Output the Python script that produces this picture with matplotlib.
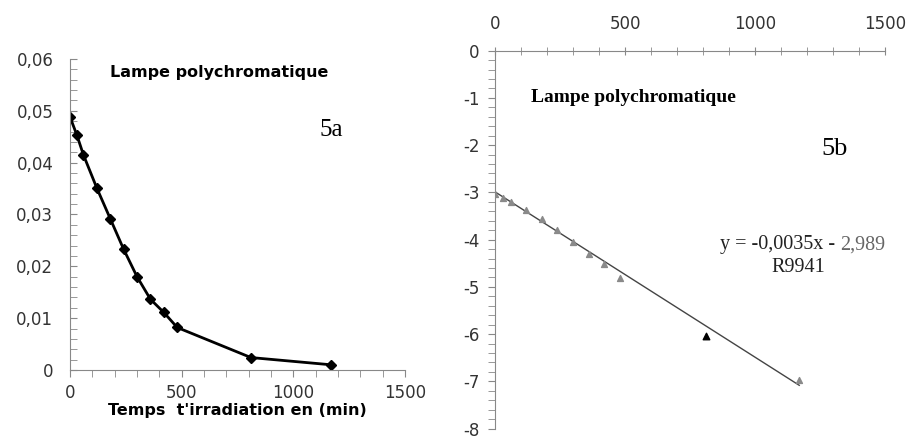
import matplotlib.pyplot as plt
from matplotlib.ticker import MultipleLocator, FuncFormatter
import numpy as np

plt.rcParams['axes.unicode_minus'] = False

# 5a : concentration vs time
temps_a = [0, 30, 60, 120, 180, 240, 300, 360, 420, 480, 810, 1170]
conc_a = [0.0488, 0.0454, 0.0415, 0.0351, 0.0292, 0.0233, 0.0180, 0.01365, 0.0111, 0.0082, 0.0024, 0.0010]

# 5b : ln(C) vs time
temps_b = [0, 30, 60, 120, 180, 240, 300, 360, 420, 480, 810, 1170]
lnc_b = [-3.03, -3.12, -3.21, -3.38, -3.57, -3.79, -4.05, -4.31, -4.52, -4.82, -6.04, -6.97]
pente = -0.0035
ordonnee = -2.989

fig = plt.figure(figsize=(9.08, 4.4), dpi=100)
comma = FuncFormatter(lambda v, p: ('%g' % round(v, 4)).replace('.', ','))

# ---- left plot
ax1 = fig.add_axes([0.0771, 0.1591, 0.369, 0.707])
ax1.plot(temps_a, conc_a, color='black', lw=2, marker='D', markersize=5)
ax1.set_xlim(0, 1500)
ax1.set_ylim(0, 0.06)
ax1.xaxis.set_major_locator(MultipleLocator(500))
ax1.xaxis.set_minor_locator(MultipleLocator(100))
ax1.yaxis.set_major_locator(MultipleLocator(0.01))
ax1.yaxis.set_minor_locator(MultipleLocator(0.002))
ax1.yaxis.set_major_formatter(comma)
for s in ['top', 'right']:
    ax1.spines[s].set_visible(False)
for s in ['left', 'bottom']:
    ax1.spines[s].set_color('#888888')
ax1.tick_params(which='both', color='#888888', labelsize=12, labelcolor='#333333')
ax1.tick_params(axis='y', which='both', direction='in', length=5)
ax1.tick_params(axis='y', which='major', pad=12)
ax1.tick_params(axis='x', which='both', direction='out', length=5, pad=5)
ax1.set_xlabel("Temps  t'irradiation en (min)", fontsize=11.5, fontweight='bold', labelpad=1)
ax1.text(0.445, 0.955, 'Lampe polychromatique', transform=ax1.transAxes, ha='center',
         va='center', fontsize=11.5, fontweight='bold')
ax1.text(0.78, 0.77, '5a', transform=ax1.transAxes, ha='center', va='center',
         fontsize=18, family='Liberation Serif')

# ---- right plot
ax2 = fig.add_axes([0.5452, 0.026, 0.4295, 0.8588])
xs = np.array([0, temps_b[-1]])
ax2.plot(xs, pente * xs + ordonnee, color='#444444', lw=1)
ax2.scatter(temps_b[:10], lnc_b[:10], marker='^', s=18, color='#8a8a8a', zorder=3)
ax2.scatter(temps_b[10:11], lnc_b[10:11], marker='^', s=22, color='black', zorder=3)
ax2.scatter(temps_b[11:], lnc_b[11:], marker='^', s=18, color='#8a8a8a', zorder=3)
ax2.set_xlim(0, 1500)
ax2.set_ylim(-8, 0)
ax2.xaxis.set_major_locator(MultipleLocator(500))
ax2.xaxis.set_minor_locator(MultipleLocator(100))
ax2.yaxis.set_major_locator(MultipleLocator(1))
ax2.yaxis.set_minor_locator(MultipleLocator(0.2))
ax2.xaxis.tick_top()
for s in ['bottom', 'right']:
    ax2.spines[s].set_visible(False)
for s in ['left', 'top']:
    ax2.spines[s].set_color('#888888')
ax2.tick_params(which='both', color='#888888', labelsize=12, labelcolor='#333333')
ax2.tick_params(axis='y', which='both', direction='out', length=5)
ax2.tick_params(axis='y', which='major', pad=6)
ax2.tick_params(axis='x', which='both', direction='inout', length=6, pad=10)
ax2.text(0.356, 0.875, 'Lampe polychromatique', transform=ax2.transAxes, ha='center',
         va='center', fontsize=14, fontweight='bold', family='Liberation Serif')
ax2.text(0.87, 0.74, '5b', transform=ax2.transAxes, ha='center', va='center',
         fontsize=19, family='Liberation Serif')

# equation: last part in grey, right edge at x = 1500
t2 = ax2.text(1.0, 0.486, '2,989', transform=ax2.transAxes, ha='right',
              va='center', fontsize=14.5, family='Liberation Serif', color='#666666')
fig.canvas.draw()
bb = t2.get_window_extent().transformed(ax2.transAxes.inverted())
ax2.text(bb.x0, 0.486, 'y = -0,0035x - ', transform=ax2.transAxes, ha='right',
         va='center', fontsize=14.5, family='Liberation Serif', color='#222222')
ax2.text(0.777, 0.426, 'R9941', transform=ax2.transAxes, ha='center',
         va='center', fontsize=14.5, family='Liberation Serif', color='#222222')

plt.savefig('out.png', dpi=100)
